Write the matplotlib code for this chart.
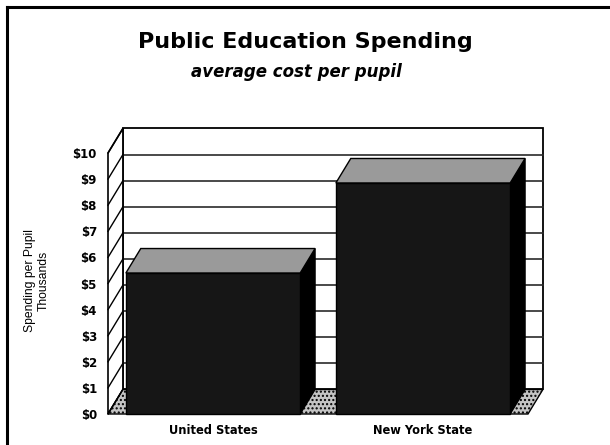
import numpy as np
import matplotlib.pyplot as plt
from matplotlib.patches import Polygon, Rectangle
from matplotlib.lines import Line2D

# %% DATA
categories = ['United States', 'New York State']
spending   = [5.4, 8.85]          # thousands of dollars per pupil
yticks     = list(range(0, 11))
ytick_lbls = ['$' + str(t) for t in yticks]

# %% LAYOUT / 3D LOOK
W, H   = 610, 445
ymax   = 10
xlim   = (0, 2)
barw   = 0.83
dx     = 0.071                    # depth offset in x data units
dy     = 0.94                     # depth offset in y data units
wide   = ['DejaVu Sans']          # wide heavy face, like the scanned labels

plt.rcParams['font.family'] = ['Liberation Sans', 'DejaVu Sans']

fig = plt.figure(figsize=(W / 100, H / 100), dpi=100)
ax = fig.add_axes([108 / W, 31 / H, 420 / W, 261 / H])
ax.set_xlim(*xlim)
ax.set_ylim(0, ymax)
for s in ax.spines.values():
    s.set_visible(False)

# back wall
ax.add_patch(Rectangle((xlim[0] + dx, dy), xlim[1] - xlim[0], ymax, facecolor='white',
                       edgecolor='black', lw=1.3, clip_on=False, zorder=1))
for t in yticks[1:-1]:
    ax.add_line(Line2D([xlim[0] + dx, xlim[1] + dx], [t + dy, t + dy], color='#2a2a2a',
                       lw=1.2, clip_on=False, zorder=1.5))

# left side wall
ax.add_patch(Polygon([(0, 0), (dx, dy), (dx, ymax + dy), (0, ymax)], closed=True,
                     facecolor='white', edgecolor='black', lw=1.2, clip_on=False, zorder=2))
for t in yticks:
    ax.add_line(Line2D([0, dx], [t, t + dy], color='black', lw=1.0, clip_on=False, zorder=2.5))

# floor
ax.add_patch(Polygon([(0, 0), (xlim[1], 0), (xlim[1] + dx, dy), (dx, dy)], closed=True,
                     facecolor='#c4c4c4', edgecolor='black', hatch='....', lw=1.0,
                     clip_on=False, zorder=2))

# bars
xpos = np.arange(len(categories)) + 0.5
for x, v in zip(xpos, spending):
    x0, x1 = x - barw / 2, x + barw / 2
    # side face
    ax.add_patch(Polygon([(x1, 0), (x1 + dx, dy), (x1 + dx, v + dy), (x1, v)], closed=True,
                         facecolor='black', edgecolor='black', lw=1, clip_on=False, zorder=3))
    # top face
    ax.add_patch(Polygon([(x0, v), (x1, v), (x1 + dx, v + dy), (x0 + dx, v + dy)], closed=True,
                         facecolor='#9a9a9a', edgecolor='black', lw=1, clip_on=False, zorder=3))
    # front face
    ax.add_patch(Rectangle((x0, 0), barw, v, facecolor='#161616', edgecolor='black',
                           lw=1, clip_on=False, zorder=4))

ax.set_yticks(yticks)
ax.set_yticklabels(ytick_lbls, fontsize=8.5, fontweight='bold', family=wide)
ax.set_xticks(xpos)
ax.set_xticklabels(categories, fontsize=8.3, fontweight='bold', family=wide)
ax.tick_params(axis='both', length=0)
ax.tick_params(axis='y', pad=8)
ax.tick_params(axis='x', pad=7)

# axis title
fig.text(37 / W, 1 - 281 / H, 'Spending per Pupil\nThousands', rotation=90,
         ha='center', va='center', fontsize=8.7, linespacing=1.2)

# titles
fig.text(305 / W, 1 - 42 / H, 'Public Education Spending', ha='center', va='center',
         fontsize=16, fontweight='bold', family=wide)
fig.text(296 / W, 1 - 72 / H, 'average cost per pupil', ha='center', va='center',
         fontsize=12, fontweight='bold', style='italic', family=wide)

# frame
fig.add_artist(Line2D([7 / W, 1], [1 - 7 / H, 1 - 7 / H], color='black', lw=2.2,
                      transform=fig.transFigure))
fig.add_artist(Line2D([7 / W, 7 / W], [0, 1 - 7 / H], color='black', lw=2.2,
                      transform=fig.transFigure))

fig.savefig('out.png', dpi=100)
